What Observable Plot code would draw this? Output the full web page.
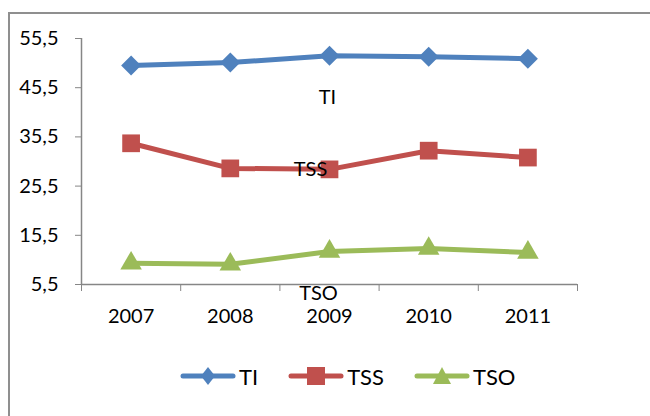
<!DOCTYPE html>
<html>
<head>
<meta charset="utf-8">
<script src="https://cdn.jsdelivr.net/npm/d3@7"></script>
<script src="https://cdn.jsdelivr.net/npm/@observablehq/plot@0.6"></script>
<style>
  html, body { margin: 0; padding: 0; background: #fff; }
  body { position: relative; width: 650px; height: 416px; overflow: hidden; font-family: Lato, sans-serif; }
  #frame { position: absolute; left: 8px; top: 12px; width: 700px; height: 500px; border: 2px solid #8f8f8f; pointer-events: none; z-index: 2; }
  #chart { position: absolute; left: 0; top: 0; }
  #legend { position: absolute; left: 180px; top: 362px; display: flex; align-items: center; height: 28px; font-size: 22px; color: #000; }
  .item { display: flex; align-items: center; margin-right: 30px; }
  .item span { margin-left: 3px; }
  [aria-label$="axis tick"] { stroke: #868686; }
</style>
</head>
<body>
<div id="chart"></div>
<div id="legend"></div>
<div id="frame"></div>
<script>
const years = [2007, 2008, 2009, 2010, 2011];
const TI  = [50.0, 50.6, 52.0, 51.8, 51.4];
const TSS = [34.2, 29.1, 28.9, 32.7, 31.3];
const TSO = [9.8, 9.6, 12.2, 12.8, 12.0];
const seriesNames = ["TI", "TSS", "TSO"];
const seriesColors = ["#4F81BD", "#C0504D", "#9BBB59"];
const seriesSymbols = ["diamond2", "square", "triangle"];
const yTicks = [5.5, 15.5, 25.5, 35.5, 45.5, 55.5];

const seriesValues = [TI, TSS, TSO];
const rows = [];
seriesNames.forEach((s, i) => years.forEach((yr, j) => rows.push({series: s, year: yr, value: seriesValues[i][j]})));
const boundaries = years.map(y => y - 0.5).concat([years[years.length - 1] + 0.5]);
const fmt = d => d.toFixed(1).replace(".", ",");
const gray = "#868686";
const rBySeries = {TI: 9, TSS: 10, TSO: 8};
const labelOffsets = {TI: [-2, 42], TSS: [-19, 0], TSO: [-11, 42]};

const marks = [
  Plot.ruleX([boundaries[0]], {y1: yTicks[0], y2: yTicks[yTicks.length - 1], stroke: gray, strokeWidth: 1.5}),
  Plot.ruleY([yTicks[0]], {stroke: gray, strokeWidth: 1.5}),
  Plot.axisY({ticks: yTicks, tickSize: 6, tickPadding: 17, tickFormat: fmt, label: null}),
  Plot.axisX({ticks: years, tickSize: 0, tickPadding: 24, tickFormat: d => String(d), label: null}),
  Plot.axisX({ticks: boundaries, tickSize: 7, tickFormat: () => "", label: null}),
  Plot.line(rows, {x: "year", y: "value", stroke: "series", strokeWidth: 5, z: "series"})
];
seriesNames.forEach((s, i) => {
  marks.push(Plot.dot(rows.filter(d => d.series === s), {x: "year", y: "value", fill: seriesColors[i], symbol: seriesSymbols[i], r: rBySeries[s], stroke: "none"}));
});
seriesNames.forEach(s => {
  const [dx, dy] = labelOffsets[s];
  marks.push(Plot.text(rows.filter(d => d.series === s && d.year === years[2]), {x: "year", y: "value", text: "series", dx, dy, fill: "black", fontSize: 20}));
});

const chart = Plot.plot({
  width: 650,
  height: 345,
  marginLeft: 81,
  marginRight: 73,
  marginTop: 38,
  marginBottom: 61,
  style: {fontFamily: "Lato, sans-serif", fontSize: "20px", color: "#000", background: "white"},
  x: {domain: [boundaries[0], boundaries[boundaries.length - 1]], label: null},
  y: {domain: [yTicks[0], yTicks[yTicks.length - 1]], label: null},
  color: {domain: seriesNames, range: seriesColors},
  marks
});
document.getElementById("chart").appendChild(chart);

// legend
const legend = document.getElementById("legend");
seriesNames.forEach((s, i) => {
  const item = document.createElement("div");
  item.className = "item";
  let marker;
  const c = seriesColors[i];
  if (s === "TI") marker = `<path d="M28,3 L35,12 L28,21 L21,12 Z" fill="${c}"/>`;
  else if (s === "TSS") marker = `<rect x="19" y="3" width="18" height="18" fill="${c}"/>`;
  else marker = `<path d="M28,3 L37,20 L19,20 Z" fill="${c}"/>`;
  item.innerHTML = `<svg width="56" height="24"><line x1="3" y1="12" x2="53" y2="12" stroke="${c}" stroke-width="5" stroke-linecap="round"/>${marker}</svg><span>${s}</span>`;
  legend.appendChild(item);
});
</script>
</body>
</html>
